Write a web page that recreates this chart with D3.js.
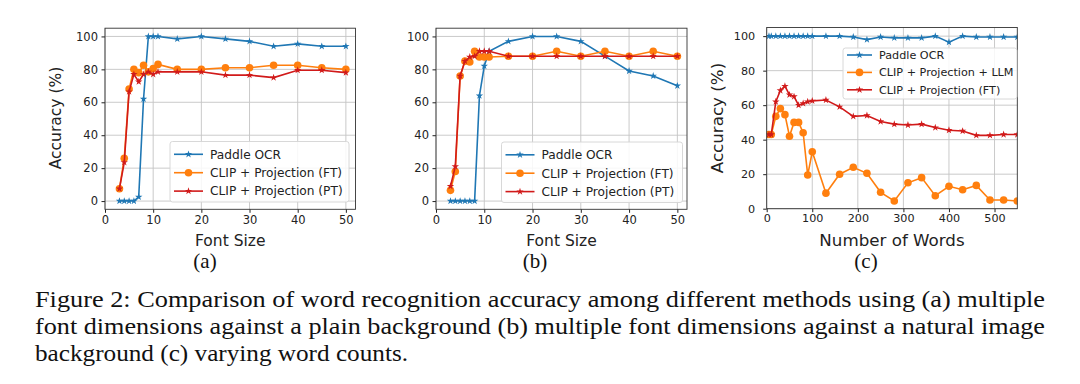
<!DOCTYPE html>
<html>
<head>
<meta charset="utf-8">
<script src="https://cdn.jsdelivr.net/npm/d3@7"></script>
<style>
  body { margin: 0; background: #fff; }
  svg { display: block; }
  .tick text { font-family: "DejaVu Sans", sans-serif; fill: #222; }
  .tick line { stroke: #222; }
</style>
</head>
<body>
<script>
// ---- data ----
const fontSizes = [3,4,5,6,7,8,9,10,11,15,20,25,30,35,40,45,50];
const plainPaddle = [0,0,0,0,2.5,62,100,100,100,98.5,100,98.5,97,94,95.5,94,94];
const plainFT = [7.5,26,68,80,78,82.5,78.5,80.5,83,80,80,81,81,82.5,82.5,81,80];
const plainPT = [7.5,23.5,66.5,77,72.5,77,78.5,77,78.5,78.5,78.5,76.5,76.5,75,79.5,79.5,78];

const naturalPaddle = [0,0,0,0,0,0,64,82,91,97,100,100,97,88,79,76,70];
const naturalFT = [6.5,18,76,85,84.5,91,87.5,87.5,87.5,88,88,91,88,91,88,91,88];
const naturalPT = [9,21,76,85,87.5,88,91,91,91,88,88,88,88,88,88,88,88];

const wordCounts = [5,10,20,30,40,50,60,70,80,90,100,130,160,190,220,250,280,310,340,370,400,430,460,490,520,550];
const wordPaddle = [100,100,100,100,100,100,100,100,100,100,100,100,100,99.5,98,99.5,99,99,99,100,96.5,100,99.5,99.5,99.5,99.5];
const wordLLM = [43,43,53.5,58,54.5,42,50,50,44,19.5,33,9,20,24,20.5,9.5,4.5,15,18,7.5,13,11,13.5,5,5,4.5];
const wordFT = [43,43,62,68.5,71,66,65,60,61,62,62.5,63,59,53.5,54,50.5,49,48.5,49,47,45.5,45,42.5,42.5,43,43];

const fontTicks = [0,10,20,30,40,50];
const wordTicks = [0,100,200,300,400,500];
const accTicks = [0,20,40,60,80,100];

const captionLines = [
  "Figure 2: Comparison of word recognition accuracy among different methods using (a) multiple",
  "font dimensions against a plain background (b) multiple font dimensions against a natural image",
  "background (c) varying word counts."
];

const BLUE = "#1f77b4", ORANGE = "#ff7f0e", RED = "#d11a1a";
const SERIF = "'Liberation Serif', 'Times New Roman', Times, serif";

const svg = d3.select("body").append("svg")
    .attr("width", 1080).attr("height", 384);

const star = d3.symbol().type(d3.symbolStar).size(17);

function drawPanel(p) {
  const g = svg.append("g");
  const x = d3.scaleLinear().domain(p.xDomain).range([p.left, p.right]);
  const y = d3.scaleLinear().domain(p.yDomain).range([p.bottom, p.top]);

  // grid
  g.append("g").selectAll("line").data(p.xTicks).join("line")
    .attr("x1", d => x(d)).attr("x2", d => x(d))
    .attr("y1", p.top).attr("y2", p.bottom)
    .attr("stroke", "#c4c4c4").attr("stroke-width", 0.9);
  g.append("g").selectAll("line").data(accTicks).join("line")
    .attr("y1", d => y(d)).attr("y2", d => y(d))
    .attr("x1", p.left).attr("x2", p.right)
    .attr("stroke", "#c4c4c4").attr("stroke-width", 0.9);

  // axes
  const ax = g.append("g").attr("transform", `translate(0,${p.bottom})`)
    .call(d3.axisBottom(x).tickValues(p.xTicks).tickSize(3.5).tickPadding(p.xPad));
  const ay = g.append("g").attr("transform", `translate(${p.left},0)`)
    .call(d3.axisLeft(y).tickValues(accTicks).tickSize(3.5).tickPadding(p.yPad));
  [ax, ay].forEach(a => {
    a.select(".domain").remove();
    a.selectAll("text").style("font-size", p.tickFont + "px");
  });

  // series, clipped to the axes
  const clipId = "clip-" + p.name;
  svg.append("clipPath").attr("id", clipId).append("rect")
    .attr("x", p.left).attr("y", p.top)
    .attr("width", p.right - p.left).attr("height", p.bottom - p.top);
  const plot = g.append("g").attr("clip-path", `url(#${clipId})`);
  const line = d3.line().x(d => x(d[0])).y(d => y(d[1]));

  p.series.forEach(s => {
    const pts = p.xs.map((v, i) => [v, s.values[i]]);
    plot.append("path").datum(pts).attr("d", line)
      .attr("fill", "none").attr("stroke", s.color).attr("stroke-width", 1.6);
    if (s.marker === "circle") {
      plot.append("g").selectAll("circle").data(pts).join("circle")
        .attr("cx", d => x(d[0])).attr("cy", d => y(d[1])).attr("r", 3.8)
        .attr("fill", s.color);
    } else {
      plot.append("g").selectAll("path").data(pts).join("path")
        .attr("d", star)
        .attr("transform", d => `translate(${x(d[0])},${y(d[1])})`)
        .attr("fill", s.color);
    }
  });

  // spines
  g.append("rect").attr("x", p.left).attr("y", p.top)
    .attr("width", p.right - p.left).attr("height", p.bottom - p.top)
    .attr("fill", "none").attr("stroke", "#333").attr("stroke-width", 0.9);

  // legend
  const L = p.legend;
  const lg = g.append("g");
  lg.append("rect").attr("x", L.x).attr("y", L.y).attr("width", L.w).attr("height", L.h)
    .attr("rx", 2.5).attr("fill", "#fff").attr("fill-opacity", 0.85)
    .attr("stroke", "#d4d4d4").attr("stroke-width", 0.9);
  p.series.forEach((s, i) => {
    const cy = L.y + L.first + i * L.step;
    lg.append("line").attr("x1", L.x + 4).attr("x2", L.x + 4 + L.len)
      .attr("y1", cy).attr("y2", cy).attr("stroke", s.color).attr("stroke-width", 1.6);
    const mx = L.x + 4 + L.len / 2;
    if (s.marker === "circle") {
      lg.append("circle").attr("cx", mx).attr("cy", cy).attr("r", 3.8).attr("fill", s.color);
    } else {
      lg.append("path").attr("d", star).attr("transform", `translate(${mx},${cy})`)
        .attr("fill", s.color);
    }
    lg.append("text").attr("x", L.x + L.len + 11).attr("y", cy).attr("dy", "0.36em")
      .style("font-family", "DejaVu Sans").style("font-size", L.font + "px")
      .attr("fill", "#222").text(s.label);
  });

  // axis titles
  g.append("text").attr("x", (p.left + p.right) / 2).attr("y", 245.5)
    .attr("text-anchor", "middle").style("font-family", "DejaVu Sans")
    .style("font-size", p.labelFont + "px").attr("fill", "#222").text(p.xLabel);
  if (p.yLabelX) {
    g.append("text").attr("transform", `translate(${p.yLabelX},118) rotate(-90)`)
      .attr("text-anchor", "middle").style("font-family", "DejaVu Sans")
      .style("font-size", p.labelFont + "px").attr("fill", "#222").text("Accuracy (%)");
  }
  // sub-caption
  g.append("text").attr("x", p.subX).attr("y", 268)
    .attr("text-anchor", "middle").style("font-family", SERIF)
    .style("font-size", "21px").attr("fill", "#111").text(p.sub);
}

drawPanel({
  name: "a", xs: fontSizes, xDomain: [0, 52], yDomain: [-5, 105],
  left: 105, right: 355.5, top: 28.2, bottom: 209.3,
  xTicks: fontTicks, xPad: 3.5, yPad: 3.5, tickFont: 11.5, labelFont: 15.5,
  xLabel: "Font Size", yLabelX: 61, sub: "(a)", subX: 205,
  series: [
    { label: "Paddle OCR", values: plainPaddle, color: BLUE, marker: "star" },
    { label: "CLIP + Projection (FT)", values: plainFT, color: ORANGE, marker: "circle" },
    { label: "CLIP + Projection (PT)", values: plainPT, color: RED, marker: "star" }
  ],
  legend: { x: 170, y: 141.5, w: 179, h: 60.5, first: 12.8, step: 18.4, len: 29, font: 12.2 }
});

drawPanel({
  name: "b", xs: fontSizes, xDomain: [0, 52], yDomain: [-5, 105],
  left: 436, right: 687, top: 28.2, bottom: 209.3,
  xTicks: fontTicks, xPad: 3.5, yPad: 3.5, tickFont: 11.5, labelFont: 15.5,
  xLabel: "Font Size", yLabelX: null, sub: "(b)", subX: 535,
  series: [
    { label: "Paddle OCR", values: naturalPaddle, color: BLUE, marker: "star" },
    { label: "CLIP + Projection (FT)", values: naturalFT, color: ORANGE, marker: "circle" },
    { label: "CLIP + Projection (PT)", values: naturalPT, color: RED, marker: "star" }
  ],
  legend: { x: 501.5, y: 142, w: 181, h: 60.5, first: 12.8, step: 18.4, len: 29, font: 12.2 }
});

drawPanel({
  name: "c", xs: wordCounts, xDomain: [0, 550], yDomain: [0, 105],
  left: 766.7, right: 1017.3, top: 27.5, bottom: 208.7,
  xTicks: wordTicks, xPad: 2, yPad: 8, tickFont: 11.2, labelFont: 16.7,
  xLabel: "Number of Words", yLabelX: 723, sub: "(c)", subX: 866,
  series: [
    { label: "Paddle OCR", values: wordPaddle, color: BLUE, marker: "star" },
    { label: "CLIP + Projection + LLM", values: wordLLM, color: ORANGE, marker: "circle" },
    { label: "CLIP + Projection (FT)", values: wordFT, color: RED, marker: "star" }
  ],
  legend: { x: 843, y: 48, w: 174, h: 51, first: 7, step: 17.4, len: 25, font: 11.2 }
});

// figure caption
svg.append("g").selectAll("text").data(captionLines).join("text")
  .attr("x", 35).attr("y", (d, i) => 307 + i * 27)
  .attr("textLength", (d, i) => i < 2 ? 1010 : 373)
  .attr("lengthAdjust", "spacingAndGlyphs")
  .style("font-family", SERIF).style("font-size", "24px")
  .attr("fill", "#111").text(d => d);
</script>
</body>
</html>
